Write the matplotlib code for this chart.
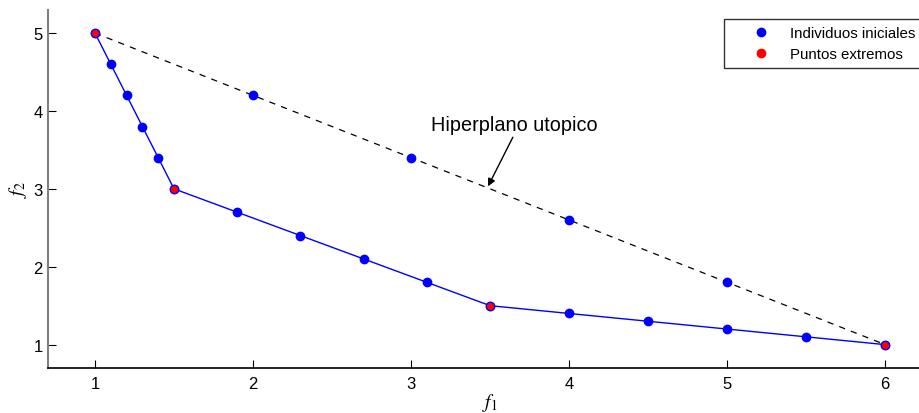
import matplotlib.pyplot as plt
from matplotlib.legend_handler import HandlerLine2D

# frente de Pareto (linea azul)
front_f1 = [1, 1.1, 1.2, 1.3, 1.4, 1.5, 1.9, 2.3, 2.7, 3.1, 3.5, 4, 4.5, 5, 5.5, 6]
front_f2 = [5, 4.6, 4.2, 3.8, 3.4, 3.0, 2.7, 2.4, 2.1, 1.8, 1.5, 1.4, 1.3, 1.2, 1.1, 1.0]

# puntos sobre el hiperplano
hyper_f1 = [2, 3, 4, 5]
hyper_f2 = [4.2, 3.4, 2.6, 1.8]

# puntos extremos
ext_f1 = [1, 1.5, 3.5, 6]
ext_f2 = [5, 3, 1.5, 1]

# hiperplano utopico
plane_f1 = [1, 6]
plane_f2 = [5, 1]

plt.rcParams['font.family'] = ['Liberation Sans', 'DejaVu Sans']
plt.rcParams['mathtext.fontset'] = 'stix'

fig = plt.figure(figsize=(9.2, 4.14), dpi=100)
ax = fig.add_axes([0.0517, 0.1087, 0.962, 0.8655])

ax.plot(plane_f1, plane_f2, '--', color='black', lw=0.9, dashes=(5, 5))
ax.plot(front_f1, front_f2, '-', color='blue', lw=1)
h1, = ax.plot(front_f1, front_f2, 'o', color='blue', ms=6, label='Individuos iniciales')
ax.plot(hyper_f1, hyper_f2, 'o', color='blue', ms=6)
ax.plot(ext_f1, ext_f2, 'o', color='red', mec='blue', mew=0.8, ms=6)
h2, = ax.plot([], [], 'o', color='red', ms=6, label='Puntos extremos')

# texto y flecha
ax.text(3.652, 3.752, 'Hiperplano utopico', ha='center', va='baseline', fontsize=14.3)
ax.annotate('', xy=(3.487, 3.032), xytext=(3.644, 3.662),
            arrowprops=dict(arrowstyle='-|>', color='black', lw=1,
                            shrinkA=0, shrinkB=0, mutation_scale=11))

ax.set_xlim(0.7, 6.3)
ax.set_ylim(0.7, 5.3)
ax.set_xticks([1, 2, 3, 4, 5, 6])
ax.set_yticks([1, 2, 3, 4, 5])
ax.tick_params(direction='in', length=6, labelsize=12, width=0.8)
ax.tick_params(axis='x', pad=6)

ax.spines['top'].set_visible(False)
ax.spines['right'].set_visible(False)
ax.spines['left'].set_color('gray')
ax.spines['left'].set_linewidth(1.5)
ax.spines['bottom'].set_linewidth(1.2)

ax.set_xlabel('$f_1$', fontsize=14, labelpad=0)
ax.set_ylabel('$f_2$', fontsize=14, labelpad=3)

hl = HandlerLine2D(xpad=0.37)
leg = fig.legend(handles=[h1, h2], loc='upper left',
                 bbox_to_anchor=(724 / 920, 1 - 20 / 414),
                 fontsize=10.8, frameon=True, fancybox=False, borderaxespad=0,
                 handletextpad=0.27, borderpad=0.45, labelspacing=0.5,
                 handlelength=3.67, handler_map={h1: hl, h2: hl})
leg.get_frame().set_edgecolor('black')
leg.get_frame().set_linewidth(1)

fig.savefig('out.png', dpi=100)
